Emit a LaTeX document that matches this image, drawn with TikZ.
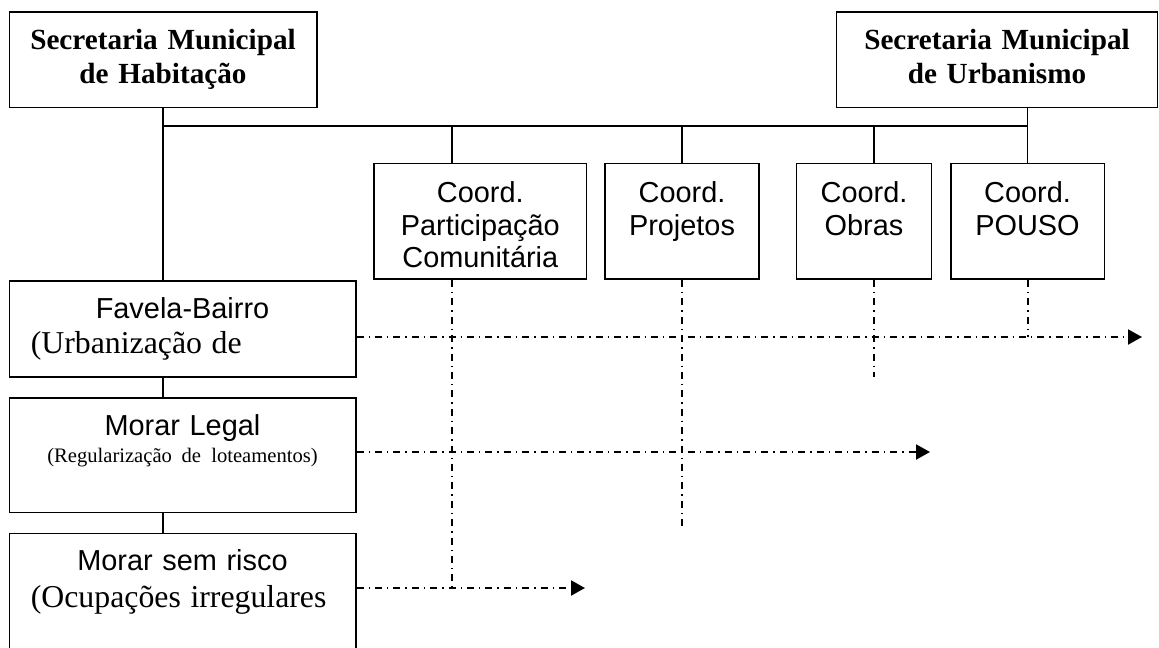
\documentclass[tikz,border=0pt]{standalone}
\usepackage{fontspec}
\setmainfont{Liberation Serif}
\setsansfont{Liberation Sans}
\usetikzlibrary{positioning,arrows.meta}

\begin{document}
\begin{tikzpicture}[
    x=0.5pt, y=-0.5pt,
    node distance=9.65pt,
    box/.style={draw, rectangle, line width=0.8pt, inner sep=0pt, anchor=north, align=center},
    secretaria/.style={box, text width=#1, text height=19pt, text depth=28.75pt, font=\rmfamily\bfseries\fontsize{14.6}{17}\selectfont},
    coord/.style={box, text width=#1, text height=19.5pt, text depth=38.3pt, font=\sffamily\fontsize{14.45}{16.3}\selectfont},
    programa/.style={box, text width=173.2pt, font=\sffamily\fontsize{14.45}{17.3}\selectfont},
    link/.style={line width=0.7pt},
    flow/.style={line width=1pt, dash pattern=on 3.5pt off 2.5pt on 0.7pt off 2.5pt},
    arrow/.style={flow, -{Triangle[length=7pt, width=7.5pt]}}
]
    \useasboundingbox (0,0) rectangle (1159,647);

    % Nodes
    \node[secretaria=153.7pt] (habit) at (163,11) {Secretaria Municipal\\de Habitação};
    \node[secretaria=160.5pt] (urban) at (997,11) {Secretaria Municipal\\de Urbanismo};
    \node[coord=106.35pt] (partic) at (480.3,162.7) {Coord.\\Participação\\Comunitária};
    \node[coord=77pt] (proj) at (682,162.7) {Coord.\\Projetos};
    \node[coord=67.5pt] (obras) at (864,162.7) {Coord.\\Obras};
    \node[coord=76.8pt] (pouso) at (1027.5,162.7) {Coord.\\POUSO};
    \node[programa, text height=19pt, text depth=29pt] (favela) at (182.5,280)
        {Favela-Bairro\\\makebox[\linewidth][l]{\hspace{10.75pt}\rmfamily\fontsize{15.9}{17.3}\selectfont(Urbanização de}};
    \node[programa, below=of favela, text height=18.85pt, text depth=38.5pt, font=\sffamily\fontsize{14.45}{13.5}\selectfont] (legal)
        {Morar Legal\\{\rmfamily\fontsize{10.3}{13.5}\selectfont(Regularização de\hspace{0.5em}loteamentos)}};
    \node[programa, below=of legal, text height=18.7pt, text depth=70pt] (risco)
        {Morar sem risco\\[1pt]\makebox[\linewidth][l]{\hspace{10.75pt}\rmfamily\fontsize{15.9}{18.3}\selectfont(Ocupações irregulares}};

    % Points
    \coordinate (bus) at (0,126);
    \coordinate (dpartic) at (452,126);
    \coordinate (dobras) at (874,126);
    \coordinate (tipfavela) at (1142,337);
    \coordinate (tiplegal) at (930,452);
    \coordinate (tiprisco) at (585,588);
    \coordinate (endproj) at (682,527);
    \coordinate (endobras) at (874,377);

    % Connections
    \draw[link] (habit.south) -- (habit.south |- favela.north);
    \draw[link] (habit.south |- bus) -- (pouso.north |- bus);
    \draw[link] (pouso.north |- urban.south) -- (pouso.north);
    \draw[link] (dpartic) -- (dpartic |- partic.north);
    \draw[link] (proj.north |- bus) -- (proj.north);
    \draw[link] (dobras) -- (dobras |- obras.north);
    \draw[link] (habit.south |- favela.south) -- (habit.south |- legal.north);
    \draw[link] (habit.south |- legal.south) -- (habit.south |- risco.north);

    % Flows
    \draw[arrow] (favela.east |- tipfavela) -- (tipfavela);
    \draw[arrow] (legal.east |- tiplegal) -- (tiplegal);
    \draw[arrow] (risco.east |- tiprisco) -- (tiprisco);
    \draw[flow] (dpartic |- partic.south) -- (dpartic |- tiprisco);
    \draw[flow] (proj.south) -- (endproj);
    \draw[flow] (dobras |- obras.south) -- (endobras);
    \draw[flow] (pouso.south) -- (pouso.south |- tipfavela);
\end{tikzpicture}
\end{document}
